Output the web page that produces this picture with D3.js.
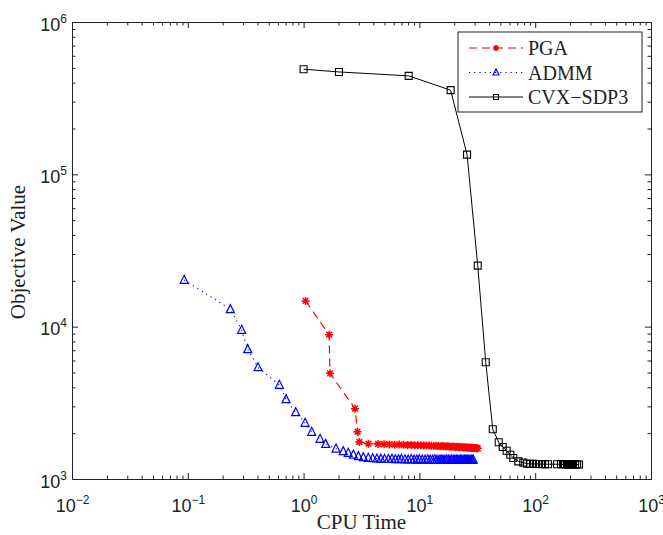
<!DOCTYPE html>
<html lang="en">

<head>
    <meta charset="UTF-8">
    <title>Objective Value vs CPU Time</title>
    <script src="https://d3js.org/d3.v7.min.js"></script>
    <style>
        body { margin: 0; background: #fff; }
        svg { display: block; font-family: "Liberation Serif", "Times New Roman", serif; }
    </style>
</head>

<body>
    <svg width="663" height="535"></svg>
    <script>
        // data (CPU time in s, objective value)
        const pgaTime = [1.04, 1.66, 1.69, 2.78, 2.92, 3.03, 3.63, 4.39, 4.95, 5.5, 6.1, 6.7, 7.3, 7.9, 8.5, 9.1, 9.7,
            10.3, 10.9, 11.5, 12.1, 12.7, 13.3, 13.9, 14.5, 15.1, 15.7, 16.3, 16.9, 17.5, 18.1, 18.7, 19.3, 19.9,
            20.5, 21.1, 21.7, 22.3, 22.9, 23.5, 24.1, 24.7, 25.3, 25.9, 26.5, 27.1, 27.7, 28.3, 28.9, 29.5, 30.1,
            30.7, 31.3, 31.9];
        const pgaValue = [14750, 8860, 4940, 2894, 2045, 1750, 1706, 1697, 1690, 1686, 1681, 1684, 1676, 1672, 1675,
            1668, 1664, 1667, 1660, 1657, 1660, 1652, 1649, 1652, 1645, 1642, 1645, 1638, 1636, 1639, 1632, 1630,
            1633, 1626, 1624, 1627, 1620, 1618, 1621, 1614, 1612, 1615, 1608, 1606, 1609, 1603, 1601, 1604, 1598,
            1596, 1599, 1594, 1592, 1590];

        const admmTime = [0.093, 0.233, 0.292, 0.329, 0.404, 0.617, 0.705, 0.855, 1.03, 1.175, 1.386, 1.552, 1.905,
            2.20, 2.43, 2.69, 2.97, 3.28, 3.62, 3.95, 4.3, 4.65, 5.0, 5.4, 5.8, 6.2, 6.6, 7.0, 7.5, 8.0, 8.5, 9.0,
            9.5, 10.0, 10.6, 11.2, 11.8, 12.4, 13.0, 13.6, 14.2, 14.8, 15.4, 16.0, 16.6, 17.2, 17.8, 18.4, 19.0,
            19.6, 20.2, 20.8, 21.4, 22.0, 22.6, 23.2, 23.8, 24.4, 25.0, 25.6, 26.2, 26.8, 27.4, 28.0, 28.6, 29.2];
        const admmValue = [20270, 13010, 9510, 7106, 5412, 4141, 3337, 2741, 2332, 2035, 1831, 1697, 1581, 1520,
            1482, 1444, 1410, 1388, 1374, 1365, 1360, 1356, 1352, 1350, 1356, 1347, 1345, 1352, 1343, 1341, 1348,
            1340, 1338, 1346, 1339, 1337, 1344, 1338, 1336, 1343, 1337, 1335, 1342, 1336, 1335, 1342, 1336, 1334,
            1341, 1335, 1334, 1340, 1335, 1333, 1340, 1334, 1333, 1339, 1334, 1332, 1338, 1333, 1332, 1337, 1331,
            1336];

        const cvxTime = [1.0, 2.02, 8.08, 18.6, 25.8, 31.9, 37.4, 43, 48.4, 52.4, 56.7, 61, 64.7, 71.5, 78.9, 85,
            90.2, 95.7, 101.6, 107.8, 114.5, 121.5, 129, 154.3, 167, 174, 181, 188, 196, 204, 212, 221, 230, 239];
        const cvxValue = [490000, 470000, 443000, 357000, 134700, 25150, 5840, 2120, 1742, 1622, 1534, 1444, 1374,
            1306, 1280, 1260, 1258, 1256, 1255, 1254, 1253, 1252, 1251, 1250, 1250, 1249, 1249, 1248, 1248, 1248,
            1247, 1247, 1246, 1246];

        const seriesNames = ["PGA", "ADMM", "CVX\u2212SDP3"];
        const xExponents = [-2, -1, 0, 1, 2, 3];
        const yExponents = [3, 4, 5, 6];

        const margin = { top: 22, right: 12, bottom: 56, left: 72 },
            width = 663 - margin.left - margin.right,
            height = 535 - margin.top - margin.bottom;

        const svg = d3.select("svg")
            .append("g")
            .attr("transform", `translate(${margin.left},${margin.top})`);

        const x = d3.scaleLog().domain([1e-2, 1e3]).range([0, width]);
        const y = d3.scaleLog().domain([1e3, 1e6]).range([height, 0]);

        const xMajor = xExponents.map(e => Math.pow(10, e));
        const yMajor = yExponents.map(e => Math.pow(10, e));
        const minors = (exps) => d3.merge(exps.slice(0, -1).map(e => d3.range(2, 10).map(k => k * Math.pow(10, e))));
        const xMinor = minors(xExponents);
        const yMinor = minors(yExponents);

        // axes: ticks point inward, mirrored on top and right
        const axisStyle = g => {
            g.selectAll("path.domain").attr("stroke", "#222").attr("stroke-width", 1);
            g.selectAll(".tick line").attr("stroke", "#222").attr("stroke-width", 1);
        };
        const noLabel = () => "";

        svg.append("g").attr("transform", `translate(0,${height})`)
            .call(d3.axisBottom(x).tickValues(xMinor).tickSizeInner(-3.5).tickSizeOuter(0).tickFormat(noLabel)).call(axisStyle);
        const xAxis = svg.append("g").attr("transform", `translate(0,${height})`)
            .call(d3.axisBottom(x).tickValues(xMajor).tickSizeInner(-6).tickSizeOuter(0).tickFormat(noLabel)).call(axisStyle);
        svg.append("g")
            .call(d3.axisTop(x).tickValues(xMinor).tickSizeInner(-3.5).tickSizeOuter(0).tickFormat(noLabel)).call(axisStyle);
        svg.append("g")
            .call(d3.axisTop(x).tickValues(xMajor).tickSizeInner(-6).tickSizeOuter(0).tickFormat(noLabel)).call(axisStyle);

        svg.append("g")
            .call(d3.axisLeft(y).tickValues(yMinor).tickSizeInner(-3.5).tickSizeOuter(0).tickFormat(noLabel)).call(axisStyle);
        const yAxis = svg.append("g")
            .call(d3.axisLeft(y).tickValues(yMajor).tickSizeInner(-6).tickSizeOuter(0).tickFormat(noLabel)).call(axisStyle);
        svg.append("g").attr("transform", `translate(${width},0)`)
            .call(d3.axisRight(y).tickValues(yMinor).tickSizeInner(-3.5).tickSizeOuter(0).tickFormat(noLabel)).call(axisStyle);
        svg.append("g").attr("transform", `translate(${width},0)`)
            .call(d3.axisRight(y).tickValues(yMajor).tickSizeInner(-6).tickSizeOuter(0).tickFormat(noLabel)).call(axisStyle);

        // power-of-ten labels with superscripts
        const powLabel = (text, e) => {
            text.text(null);
            text.append("tspan").text("10");
            text.append("tspan").attr("dy", -8).attr("font-size", 12)
                .text(e < 0 ? "\u2212" + (-e) : String(e));
        };

        xAxis.selectAll(".tick").each(function (d, i) {
            d3.select(this).append("text")
                .attr("x", 0).attr("y", 33)
                .attr("fill", "#222").attr("font-size", 18)
                .attr("text-anchor", "middle")
                .call(powLabel, xExponents[i]);
        });
        yAxis.selectAll(".tick").each(function (d, i) {
            d3.select(this).append("text")
                .attr("x", -5).attr("y", 8)
                .attr("fill", "#222").attr("font-size", 18)
                .attr("text-anchor", "end")
                .call(powLabel, yExponents[i]);
        });

        svg.append("text")
            .attr("x", width / 2).attr("y", height + 50)
            .attr("text-anchor", "middle").attr("font-size", 21).attr("fill", "#222")
            .text("CPU Time");
        svg.append("text")
            .attr("transform", `translate(${25 - margin.left},${252 - margin.top}) rotate(-90)`)
            .attr("text-anchor", "middle").attr("font-size", 21).attr("fill", "#222")
            .text("Objective Value");

        // marker shapes
        const square = s => `M${-s / 2},${-s / 2}h${s}v${s}h${-s}Z`;
        const triangle = s => `M0,${-s * 0.58}L${s / 2},${s * 0.42}L${-s / 2},${s * 0.42}Z`;
        const star = s => {
            const r = s / 2, q = r * 0.72;
            return `M${-r},0H${r}M0,${-r}V${r}M${-q},${-q}L${q},${q}M${-q},${q}L${q},${-q}`;
        };

        const series = [
            { name: seriesNames[0], data: d3.zip(pgaTime, pgaValue), color: "#ff0000", dash: "8,5", marker: star, size: 8, width: 1.2, mw: 1.5 },
            { name: seriesNames[1], data: d3.zip(admmTime, admmValue), color: "#0000ff", dash: "1.2,4", marker: triangle, size: 8, width: 1.1, mw: 1.2 },
            { name: seriesNames[2], data: d3.zip(cvxTime, cvxValue), color: "#000000", dash: null, marker: square, size: 7, width: 1, mw: 1.1 }
        ];

        const line = d3.line().x(d => x(d[0])).y(d => y(d[1]));

        series.forEach(s => {
            const g = svg.append("g");
            g.append("path")
                .datum(s.data)
                .attr("fill", "none")
                .attr("stroke", s.color)
                .attr("stroke-width", s.width)
                .attr("stroke-dasharray", s.dash)
                .attr("d", line);
            g.selectAll(".mark")
                .data(s.data)
                .enter().append("path")
                .attr("class", "mark")
                .attr("transform", d => `translate(${x(d[0])},${y(d[1])})`)
                .attr("d", s.marker(s.size))
                .attr("fill", "none")
                .attr("stroke", s.color)
                .attr("stroke-width", s.mw);
        });

        // legend
        const legend = svg.append("g").attr("transform", `translate(${458 - margin.left},${32 - margin.top})`);
        legend.append("rect")
            .attr("width", 184).attr("height", 80)
            .attr("fill", "#fff").attr("stroke", "#222").attr("stroke-width", 1);
        series.forEach((s, i) => {
            const row = legend.append("g").attr("transform", `translate(0,${16 + i * 24.5})`);
            row.append("line")
                .attr("x1", 11).attr("x2", 65)
                .attr("stroke", s.color).attr("stroke-width", s.width)
                .attr("stroke-dasharray", s.dash);
            row.append("path")
                .attr("transform", "translate(38,0)")
                .attr("d", s.marker(s.size - 2))
                .attr("fill", "none").attr("stroke", s.color).attr("stroke-width", s.mw);
            row.append("text")
                .attr("x", 70).attr("y", 7)
                .attr("font-size", 20).attr("fill", "#222")
                .text(s.name);
        });
    </script>
</body>

</html>
